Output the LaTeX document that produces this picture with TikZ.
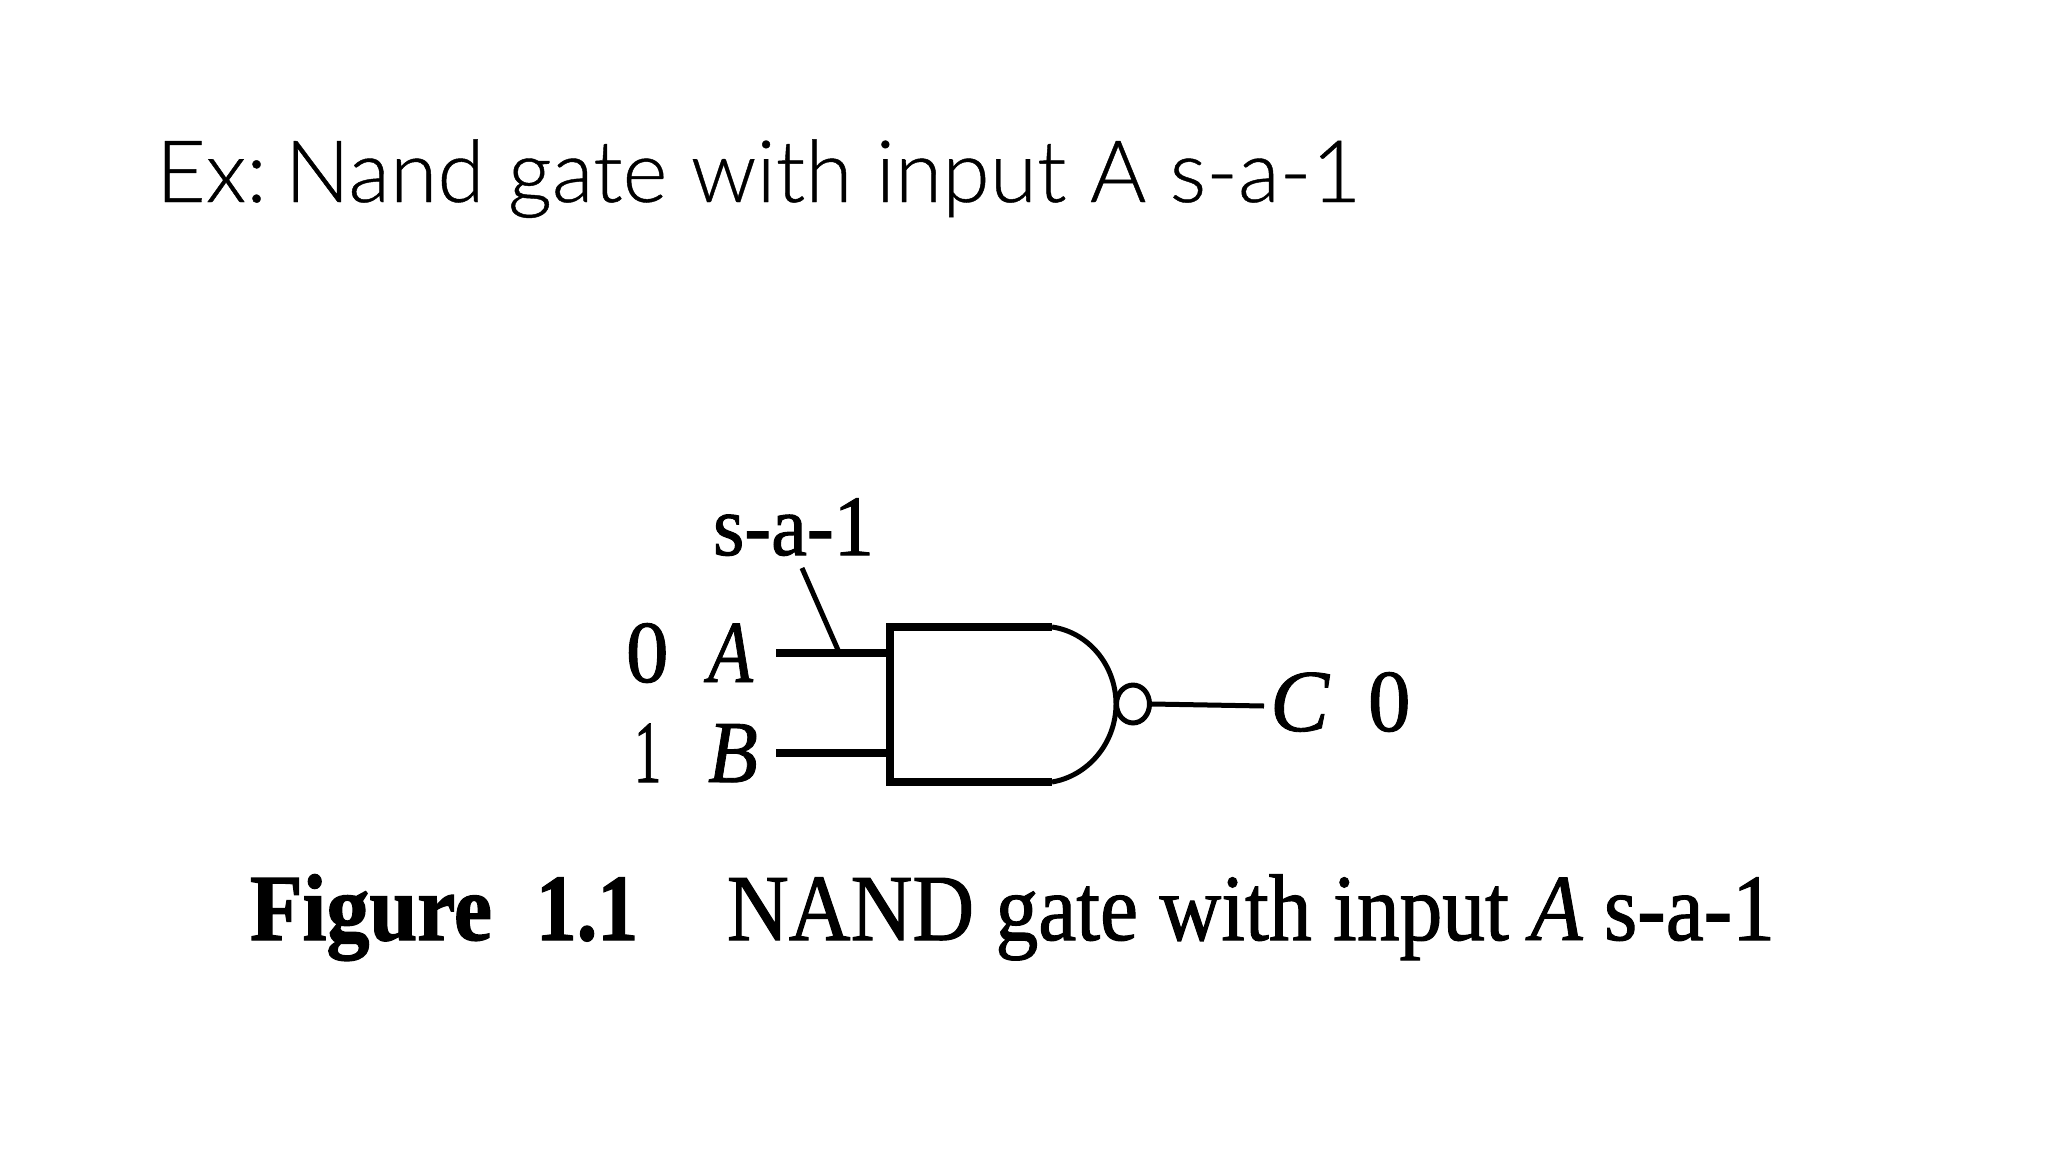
\documentclass[tikz,border=0pt]{standalone}
\usepackage{fontspec}
\setmainfont{Liberation Serif}
\newfontfamily\titlefont[FakeBold=0.5]{Lato Light}
\newfontfamily\scanbold[FakeBold=1.5]{Liberation Serif Bold}
\newfontfamily\scanreg[FakeBold=1.2]{Liberation Serif}
\newfontfamily\scanital[FakeBold=1.0]{Liberation Serif Italic}
\tikzset{
  txt/.style={inner sep=0pt,outer sep=0pt,anchor=base west,text=black},
  thickwire/.style={draw=black,line width=8pt},
  midwire/.style={draw=black,line width=5pt},
  bubble/.style={circle,draw=black,line width=5pt,fill=white,minimum width=33pt,minimum height=33pt,inner sep=0pt,yscale=1.15}
}
\begin{document}
\begin{tikzpicture}[x=1pt,y=-1pt]
\useasboundingbox[fill=white] (0,0) rectangle (2048,1152);
% title
\node[txt] (title) at (156,202) {\titlefont\fontsize{86}{86}\selectfont Ex:\kern-13pt{} Nand gate with input A s-a-1};
% gate
\coordinate (tl) at (890,627);
\coordinate (tr) at (1052,627);
\coordinate (bl) at (890,782);
\coordinate (br) at (1052,782);
\coordinate (tip) at (1116,704);
\draw[thickwire,line join=miter] (tr) -- (tl) -- (bl) -- (br);
\draw[midwire] (tr) .. controls (1088,632) and (1116,665) .. (tip) .. controls (1116,743) and (1088,776) .. (br);
\node[bubble] (inv) at (1133,704) {};
% wires
\coordinate (a0) at (776,653);
\coordinate (a1) at (890,653);
\coordinate (b0) at (776,753);
\coordinate (b1) at (890,753);
\coordinate (c1) at (1264,706);
\coordinate (f0) at (802,568);
\coordinate (f1) at (838,650);
\draw[thickwire] (a0) -- (a1);
\draw[thickwire] (b0) -- (b1);
\draw[midwire] (f0) -- (f1);
\draw[midwire] (inv.east) -- (c1);
% labels
\node[txt] (sa) at (713,555) {\scalebox{1.22}[1.3]{\scanreg\fontsize{66}{66}\selectfont s-a-1}};
\node[txt] (v0) at (626,682) {\scalebox{1.25}[1.3]{\scanreg\fontsize{68}{68}\selectfont 0}};
\node[txt] (la) at (708,682) {\scalebox{1.08}[1.3]{\scanital\fontsize{68}{68}\selectfont A}};
\node[txt] (v1) at (634,782) {\scalebox{0.8}[1.3]{\scanreg\fontsize{68}{68}\selectfont 1}};
\node[txt] (lb) at (708,782) {\scalebox{1.2}[1.3]{\scanital\fontsize{68}{68}\selectfont B}};
\node[txt] (lc) at (1270,731) {\scalebox{1.3}[1.3]{\scanital\fontsize{68}{68}\selectfont C}};
\node[txt] (v2) at (1368,731) {\scalebox{1.25}[1.3]{\scanreg\fontsize{68}{68}\selectfont 0}};
% caption
\node[txt] (capf) at (250,940) {\scalebox{1.0}[1.1]{\scanbold\fontsize{86}{86}\selectfont Figure}};
\node[txt] (capn) at (536,940) {\scalebox{0.95}[1.1]{\scanbold\fontsize{86}{86}\selectfont 1.1}};
\node[txt] (capt) at (727,940) {\scalebox{0.995}[1.1]{\scanreg\fontsize{86}{86}\selectfont NAND gate with input {\scanital A} s-a-1}};
\end{tikzpicture}
\end{document}
